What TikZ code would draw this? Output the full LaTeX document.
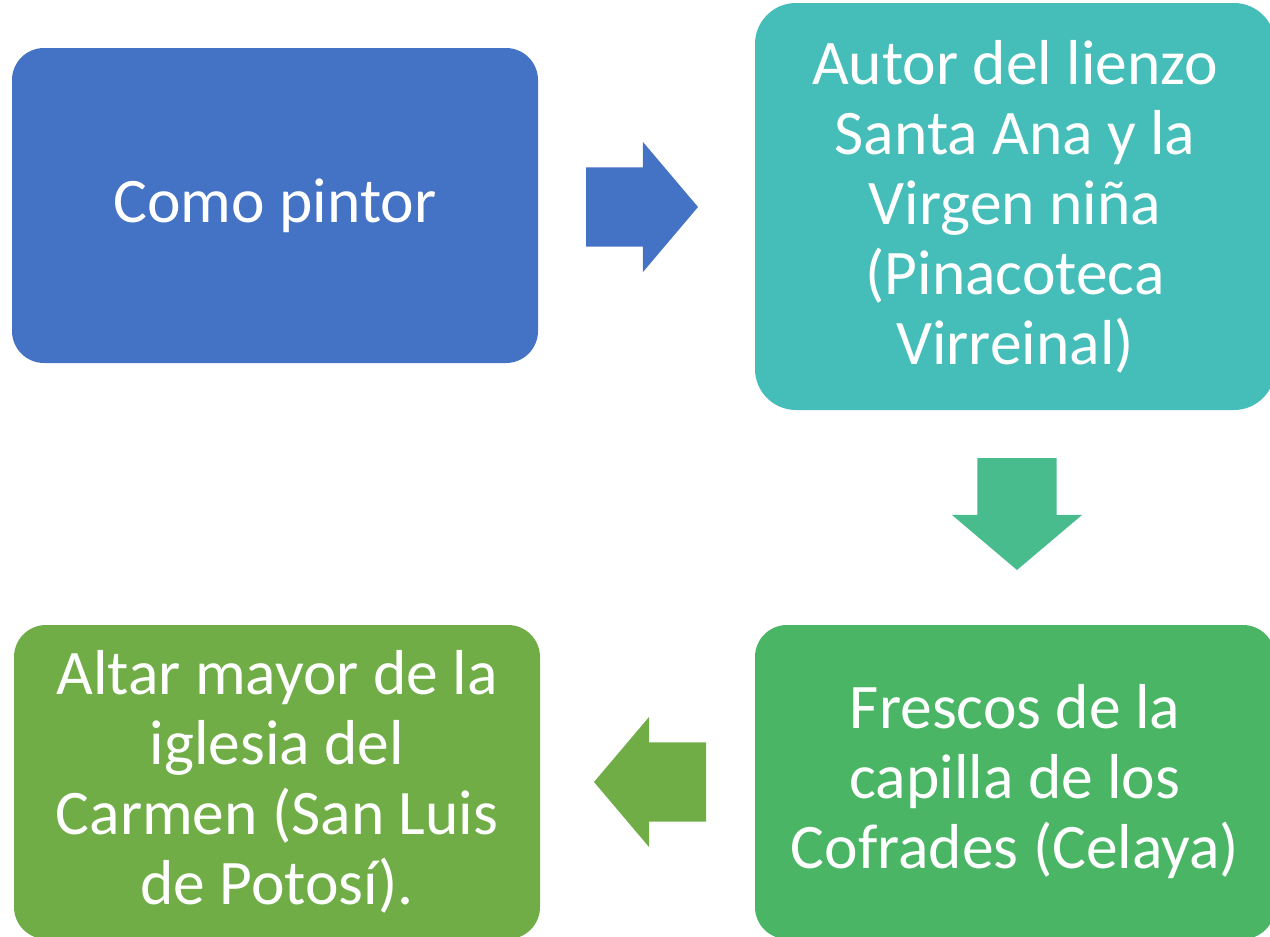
\documentclass[tikz,border=0pt]{standalone}
\usepackage{fontspec}
\setmainfont{Carlito}
\usetikzlibrary{shapes.arrows}
\definecolor{boxblue}{HTML}{4472C4}
\definecolor{boxteal}{HTML}{45BDB9}
\definecolor{arrowgreen}{HTML}{49BC8E}
\definecolor{boxgreen}{HTML}{4AB564}
\definecolor{boxolive}{HTML}{70AD47}
\tikzset{
  every node/.style={outer sep=0pt,inner sep=0pt}
}
\tikzset{card/.style={
    rectangle,
    rounded corners=#1,
    text=white,
    align=center,
    font=\fontsize{63.5}{70}\selectfont
  },
  card/.default=32pt}
\tikzset{blockarrow/.style={
    single arrow,
    fill=#1,
    anchor=tail,
    inner ysep=39.5pt,
    inner xsep=0pt,
    minimum height=112pt,
    single arrow head extend=25.5pt,
    single arrow tip angle=99.5
  }}

\begin{document}
\begin{tikzpicture}[x=1pt,y=-1pt]
  \useasboundingbox (0,0) rectangle (1270,937);
  \clip (0,0) rectangle (1270,937);

  \node (Pintor)  [card,fill=boxblue,minimum width=526pt,minimum height=315pt] at (275,205.5) {Como pintor};
  \node (Lienzo)  [card=41pt,fill=boxteal,minimum width=520pt,minimum height=407pt] at (1015,206.5)
    {Autor del lienzo\\Santa Ana y la\\Virgen niña\\(Pinacoteca\\Virreinal)};
  \node (Frescos) [card,fill=boxgreen,minimum width=520pt,minimum height=314pt] at (1015,782)
    {Frescos de la\\capilla de los\\Cofrades (Celaya)};
  \node (Altar)   [card,fill=boxolive,minimum width=526pt,minimum height=314pt] at (277,782)
    {Altar mayor de la\\iglesia del\\Carmen (San Luis\\de Potosí).};

  % block arrows between the cards
  \node (PintorLienzo)  [blockarrow=boxblue] at (586,207) {};
  \node (LienzoFrescos) [blockarrow=arrowgreen,shape border rotate=270,
                         inner xsep=39.5pt,inner ysep=0pt] at (1017,458) {};
  \node (FrescosAltar)  [blockarrow=boxolive,shape border rotate=180] at (706,782) {};
\end{tikzpicture}
\end{document}
